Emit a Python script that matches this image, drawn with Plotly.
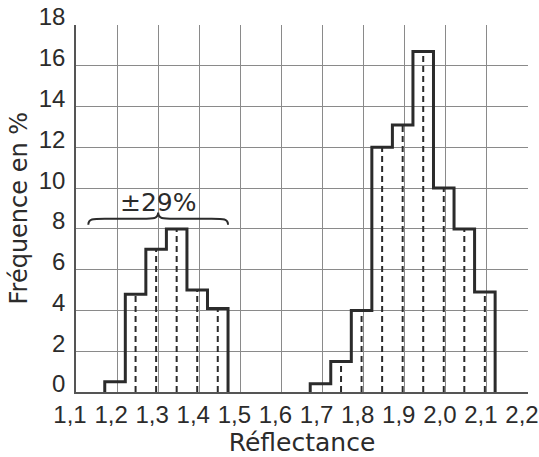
import plotly.graph_objects as go

# ---- data ----
bin_width = 0.05
left_edges = [1.17, 1.22, 1.27, 1.32, 1.37, 1.42]
left_values = [0.5, 4.8, 7.0, 8.0, 5.0, 4.1]
right_edges = [1.67, 1.72, 1.77, 1.82, 1.87, 1.92, 1.97, 2.02, 2.07]
right_values = [0.4, 1.5, 4.0, 12.0, 13.1, 16.7, 10.0, 8.0, 4.9]

x_tickvals = [1.1, 1.2, 1.3, 1.4, 1.5, 1.6, 1.7, 1.8, 1.9, 2.0, 2.1, 2.2]
x_ticktext = ["1,1", "1,2", "1,3", "1,4", "1,5", "1,6", "1,7", "1,8", "1,9", "2,0", "2,1", "2,2"]
y_tickvals = [0, 2, 4, 6, 8, 10, 12, 14, 16, 18]

annotation_text = "±29%"
brace_x = [1.13, 1.47]
brace_y = 8.2

LINE = "#2b2b2b"
GRID = "#8a8a8a"


def outline(edges, values):
    xs, ys = [edges[0]], [0]
    for e, v in zip(edges, values):
        xs += [e, e + bin_width]
        ys += [v, v]
    xs.append(edges[-1] + bin_width)
    ys.append(0)
    return xs, ys


def dashes(edges, values):
    xs, ys = [], []
    for e, v in list(zip(edges, values))[1:]:
        c = e + bin_width / 2
        xs += [c, c, None]
        ys += [0, v, None]
    return xs, ys


fig = go.Figure()
for edges, values in [(left_edges, left_values), (right_edges, right_values)]:
    dx, dy = dashes(edges, values)
    fig.add_trace(go.Scatter(x=dx, y=dy, mode="lines",
                             line=dict(color=LINE, width=2, dash="6px,4px"),
                             hoverinfo="skip", showlegend=False))
    ox, oy = outline(edges, values)
    fig.add_trace(go.Scatter(x=ox, y=oy, mode="lines",
                             line=dict(color=LINE, width=3),
                             showlegend=False))

# curly brace
x1, x2 = brace_x
xm = (x1 + x2) / 2
y0 = brace_y
h = 0.3
tip = 0.6
path = (f"M {x1},{y0} C {x1},{y0+h} {x1+0.01},{y0+h} {x1+0.04},{y0+h} "
        f"L {xm-0.04},{y0+h} C {xm-0.01},{y0+h} {xm},{y0+h} {xm},{y0+tip} "
        f"C {xm},{y0+h} {xm+0.01},{y0+h} {xm+0.04},{y0+h} "
        f"L {x2-0.04},{y0+h} C {x2-0.01},{y0+h} {x2},{y0+h} {x2},{y0}")
fig.add_shape(type="path", path=path, xref="x", yref="y",
              line=dict(color=LINE, width=2))
fig.add_annotation(x=xm, y=9.3, text=annotation_text, showarrow=False,
                   yanchor="middle", xanchor="center",
                   font=dict(family="DejaVu Sans", size=25, color=LINE))

tickfont = dict(family="Liberation Sans Narrow, Liberation Sans, Arial", size=24, color=LINE)
titlefont = dict(family="DejaVu Sans", size=25, color=LINE)

# y-axis title as rotated text placed left of the tick labels
fig.add_annotation(xref="paper", yref="paper", x=0, y=0.5, xshift=-58,
                   text="Fréquence en %", textangle=-90, showarrow=False,
                   xanchor="center", yanchor="middle",
                   font=dict(family="DejaVu Sans", size=24, color=LINE))

fig.update_xaxes(range=[1.1, 2.2], tickvals=x_tickvals, ticktext=x_ticktext,
                 showgrid=True, gridcolor=GRID, gridwidth=1,
                 showline=True, linecolor="#555", linewidth=1.5,
                 zeroline=False, ticks="", tickfont=tickfont,
                 ticklabelshift=-6, ticklabeloverflow="allow",
                 title=dict(text="Réflectance", font=titlefont, standoff=0),
                 automargin=False, fixedrange=True)
fig.update_yaxes(range=[0, 18], tickvals=y_tickvals,
                 showgrid=True, gridcolor=GRID, gridwidth=1,
                 showline=True, linecolor="#555", linewidth=1.5,
                 zeroline=False, ticks="", tickfont=tickfont,
                 ticklabelshift=-8, ticklabelstandoff=4, ticklabeloverflow="allow",
                 automargin=False, fixedrange=True)

fig.update_layout(width=539, height=457,
                  margin=dict(l=76, r=11, t=25, b=65),
                  paper_bgcolor="white", plot_bgcolor="white",
                  showlegend=False)

fig.write_html("out.html", config={"displayModeBar": False},
               post_script="document.body.style.margin='0';document.body.style.overflow='hidden';")
